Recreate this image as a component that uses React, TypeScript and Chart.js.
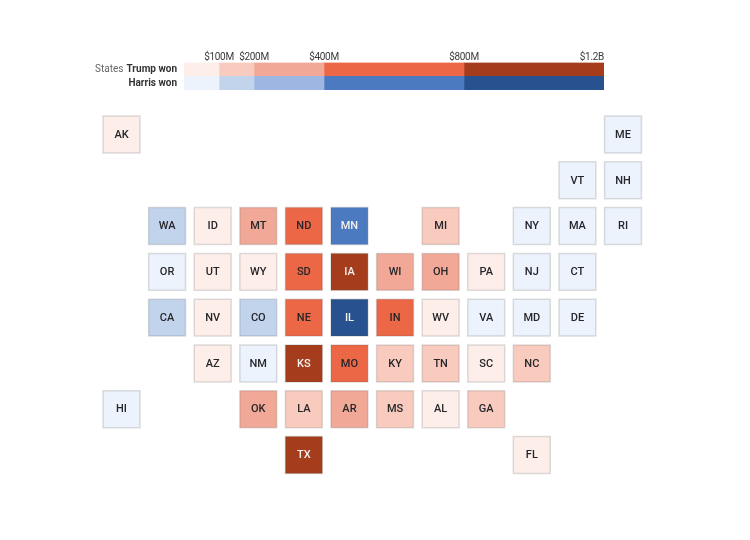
import React, { useEffect, useRef } from "react";
import { Chart, registerables } from "chart.js";

Chart.register(...registerables);

// legend bins, in $M
const binEdges = [0, 100, 200, 400, 800, 1200];
const binLabels = ["", "$100M", "$200M", "$400M", "$800M", "$1.2B"];
const trumpColors = ["#fdeeea", "#f8cbbe", "#f2a896", "#eb6746", "#a53d1c"];
const harrisColors = ["#ecf3fc", "#c2d3ec", "#9db7e2", "#4c7ac1", "#27528f"];
const legendRows = ["Trump won", "Harris won"];

// tile grid
const states = [
  "AK", "ME", "VT", "NH", "WA", "ID", "MT", "ND", "MN", "MI", "NY", "MA", "RI",
  "OR", "UT", "WY", "SD", "IA", "WI", "OH", "PA", "NJ", "CT",
  "CA", "NV", "CO", "NE", "IL", "IN", "WV", "VA", "MD", "DE",
  "AZ", "NM", "KS", "MO", "KY", "TN", "SC", "NC",
  "HI", "OK", "LA", "AR", "MS", "AL", "GA", "TX", "FL",
];
const cols = [
  0, 11, 10, 11, 1, 2, 3, 4, 5, 7, 9, 10, 11,
  1, 2, 3, 4, 5, 6, 7, 8, 9, 10,
  1, 2, 3, 4, 5, 6, 7, 8, 9, 10,
  2, 3, 4, 5, 6, 7, 8, 9,
  0, 3, 4, 5, 6, 7, 8, 4, 9,
];
const rows = [
  0, 0, 1, 1, 2, 2, 2, 2, 2, 2, 2, 2, 2,
  3, 3, 3, 3, 3, 3, 3, 3, 3, 3,
  4, 4, 4, 4, 4, 4, 4, 4, 4, 4,
  5, 5, 5, 5, 5, 5, 5, 5,
  6, 6, 6, 6, 6, 6, 6, 7, 7,
];
// estimated spend in $M, only the bin can be read from the picture
const spend = [
  60, 40, 30, 50, 150, 50, 280, 550, 600, 170, 70, 60, 30,
  80, 70, 60, 520, 950, 300, 320, 90, 60, 50,
  160, 90, 170, 560, 1100, 620, 80, 70, 60, 40,
  80, 70, 900, 640, 180, 190, 90, 180,
  40, 310, 170, 290, 150, 90, 190, 1050, 90,
];
const winners = [
  "T", "H", "H", "H", "H", "T", "T", "T", "H", "T", "H", "H", "H",
  "H", "T", "T", "T", "T", "T", "T", "T", "H", "H",
  "H", "T", "H", "T", "H", "T", "T", "H", "H", "H",
  "T", "H", "T", "T", "T", "T", "T", "T",
  "H", "T", "T", "T", "T", "T", "T", "T", "T",
];

const FONT = "Roboto, sans-serif";

function binOf(value: number) {
  let i = 0;
  while (i < 4 && value >= binEdges[i + 1]) i++;
  return i;
}

function tileColor(i: number) {
  const palette = winners[i] === "T" ? trumpColors : harrisColors;
  return palette[binOf(spend[i])];
}

function labelColor(i: number) {
  const bin = binOf(spend[i]);
  if (bin === 4 || (winners[i] === "H" && bin === 3)) return "#f4f1ee";
  return "#26262a";
}

// axis labels for the legend: the last one sits flush with the bar end
const legendLabels = {
  id: "legendLabels",
  afterDraw(chart: any) {
    const { ctx, scales } = chart;
    ctx.save();
    ctx.font = `10px ${FONT}`;
    ctx.letterSpacing = "-0.3px";
    ctx.fillStyle = "#3a3a3a";
    ctx.textBaseline = "alphabetic";
    binEdges.forEach((edge, i) => {
      if (!binLabels[i]) return;
      ctx.textAlign = i === binEdges.length - 1 ? "right" : "center";
      ctx.fillText(binLabels[i], scales.x.getPixelForValue(edge), scales.y.top - 2.5);
    });

    const right = scales.x.left - 7;
    ctx.letterSpacing = "0px";
    ctx.textBaseline = "middle";
    ctx.textAlign = "right";
    ctx.font = `bold 10px ${FONT}`;
    legendRows.forEach((row, i) => {
      ctx.fillStyle = "#333";
      ctx.fillText(row, right, scales.y.getPixelForValue(i));
    });
    const w = ctx.measureText(legendRows[0]).width;
    ctx.font = `10px ${FONT}`;
    ctx.fillStyle = "#666";
    ctx.fillText("States", right - w - 3, scales.y.getPixelForValue(0));
    ctx.restore();
  },
};

const tileLabels = {
  id: "tileLabels",
  afterDatasetsDraw(chart: any) {
    const { ctx } = chart;
    const points = chart.getDatasetMeta(0).data;
    ctx.save();
    ctx.font = `500 11px ${FONT}`;
    ctx.textAlign = "center";
    ctx.textBaseline = "middle";
    points.forEach((pt: any, i: number) => {
      ctx.fillStyle = labelColor(i);
      ctx.fillText(states[i], pt.x, pt.y + 0.5);
    });
    ctx.restore();
  },
};

export default function App() {
  const legendRef = useRef<HTMLCanvasElement | null>(null);
  const tilesRef = useRef<HTMLCanvasElement | null>(null);

  useEffect(() => {
    const legendCtx = legendRef.current?.getContext("2d");
    const tilesCtx = tilesRef.current?.getContext("2d");
    if (!legendCtx || !tilesCtx) return;

    const legend = new Chart(legendCtx, {
      type: "bar",
      data: {
        labels: legendRows,
        datasets: trumpColors.map((color, i) => ({
          data: legendRows.map(() => binEdges[i + 1] - binEdges[i]),
          backgroundColor: [color, harrisColors[i]],
          borderWidth: 0,
          barPercentage: 1,
          categoryPercentage: 1,
        })),
      },
      options: {
        indexAxis: "y",
        animation: false,
        responsive: false,
        layout: { padding: { left: 184, right: 146, top: 62.5, bottom: 10 } },
        plugins: { legend: { display: false }, tooltip: { enabled: false } },
        scales: {
          x: { stacked: true, display: false, min: 0, max: 1200 },
          y: { stacked: true, display: false },
        },
      },
      plugins: [legendLabels],
    });

    const tiles = new Chart(tilesCtx, {
      type: "scatter",
      data: {
        datasets: [
          {
            data: states.map((_, i) => ({ x: cols[i], y: rows[i] })),
            pointStyle: "rect",
            pointRadius: 26.1,
            pointBackgroundColor: states.map((_, i) => tileColor(i)),
            pointBorderColor: "rgba(90,90,90,0.2)",
            pointBorderWidth: 1.5,
            clip: false,
          },
        ],
      },
      options: {
        animation: false,
        responsive: false,
        layout: { padding: { left: 121.5, right: 127, top: 34.5, bottom: 85 } },
        plugins: { legend: { display: false }, tooltip: { enabled: false } },
        scales: {
          x: { type: "linear", display: false, min: 0, max: 11 },
          y: { type: "linear", display: false, min: 0, max: 7, reverse: true },
        },
      },
      plugins: [tileLabels],
    });

    return () => {
      legend.destroy();
      tiles.destroy();
    };
  }, []);

  return (
    <div style={{ position: "fixed", left: 0, top: 0, width: 750, height: 540, background: "#fff" }}>
      <canvas ref={legendRef} width={750} height={100} style={{ position: "absolute", left: 0, top: 0 }} />
      <canvas ref={tilesRef} width={750} height={440} style={{ position: "absolute", left: 0, top: 100 }} />
    </div>
  );
}
